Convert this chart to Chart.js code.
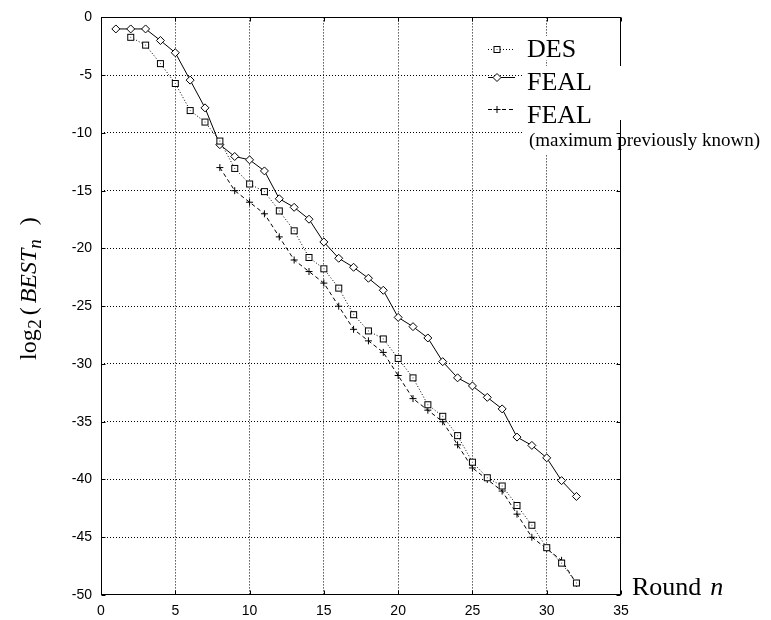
<!DOCTYPE html>
<html>
<head>
<meta charset="utf-8">
<script src="https://cdn.jsdelivr.net/npm/chart.js@4"></script>
<style>
  html, body { margin: 0; padding: 0; background: #fff; }
  canvas { display: block; }
</style>
</head>
<body>
<canvas id="c" width="771" height="620"></canvas>
<script>
// ---- data ----
const rounds = [1,2,3,4,5,6,7,8,9,10,11,12,13,14,15,16,17,18,19,20,21,22,23,24,25,26,27,28,29,30,31,32];
const desValues = [null,-1.72,-2.4,-4.0,-5.72,-8.06,-9.06,-10.7,-13.07,-14.42,-15.08,-16.75,-18.47,-20.78,-21.76,-23.43,
  -25.73,-27.14,-27.83,-29.52,-31.2,-33.53,-34.53,-36.2,-38.5,-39.85,-40.56,-42.25,-43.96,-45.9,-47.24,-48.96];
const fealValues = [-1,-1,-1,-2,-3.06,-5.43,-7.83,-11.02,-12.04,-12.33,-13.29,-15.7,-16.44,-17.47,-19.44,-20.85,
  -21.63,-22.58,-23.62,-25.97,-26.77,-27.75,-29.8,-31.2,-31.9,-32.89,-33.89,-36.33,-37.05,-38.13,-40.1,-41.47];
const fealPrevValues = [null,null,null,null,null,null,null,-13,-15,-16,-17,-19,-21,-22,-23,-25,
  -27,-28,-29,-31,-33,-34,-35,-37,-39,-40,-41,-43,-45,-46,-47,-49];
const seriesNames = ['DES', 'FEAL', 'FEAL'];
const legendNote = '(maximum previously known)';
const xTicks = [0,5,10,15,20,25,30,35];
const yTicks = [0,-5,-10,-15,-20,-25,-30,-35,-40,-45,-50];

// ---- point glyphs ----
function squareGlyph() {
  const c = document.createElement('canvas');
  c.width = 9; c.height = 9;
  const g = c.getContext('2d');
  g.fillStyle = '#fff'; g.fillRect(1, 1, 7, 7);
  g.strokeStyle = '#000'; g.lineWidth = 1;
  g.strokeRect(1.5, 1.5, 6, 6);
  g.fillStyle = '#555'; g.fillRect(4, 4, 1, 1);
  return c;
}
const sq = squareGlyph();

function pts(vals) {
  return rounds.map((r, i) => ({ x: r, y: vals[i] })).filter(p => p.y !== null);
}

const SERIF = '"Liberation Serif", "Times New Roman", serif';
const SANS = '"Liberation Sans", Arial, sans-serif';

const decor = {
  id: 'decor',
  afterDraw(chart) {
    const ctx = chart.ctx, a = chart.chartArea;
    const xs = chart.scales.x, ys = chart.scales.y;
    ctx.save();
    // legend background (hides grid behind text)
    ctx.fillStyle = '#fff';
    ctx.fillRect(523, 120, 248, 34);
    // frame
    const L = Math.round(a.left) + 0.5, R = Math.round(a.right) - 0.5;
    const T = Math.round(a.top) + 0.5, B = Math.round(a.bottom) - 0.5;
    ctx.strokeStyle = '#000'; ctx.lineWidth = 1; ctx.setLineDash([]);
    ctx.strokeRect(L, T, R - L, B - T);
    // inward tick marks
    ctx.beginPath();
    xTicks.forEach(v => {
      const p = Math.round(xs.getPixelForValue(v)) + 0.5;
      ctx.moveTo(p, B); ctx.lineTo(p, B - 4);
      ctx.moveTo(p, T); ctx.lineTo(p, T + 4);
    });
    yTicks.forEach(v => {
      const p = Math.round(ys.getPixelForValue(v)) + 0.5;
      ctx.moveTo(L, p); ctx.lineTo(L + 4, p);
      ctx.moveTo(R, p); ctx.lineTo(R - 4, p);
    });
    ctx.stroke();
    // legend upper part white box
    ctx.fillStyle = '#fff';
    ctx.fillRect(523, 66, 248, 54);
    ctx.fillRect(523, 36, 60, 24);

    // legend samples
    ctx.strokeStyle = '#000'; ctx.lineWidth = 1;
    const sx0 = 488, sx1 = 515, mx = 497;
    ctx.setLineDash([1, 2]);
    ctx.beginPath(); ctx.moveTo(sx0, 49.5); ctx.lineTo(sx1, 49.5); ctx.stroke();
    ctx.setLineDash([]);
    ctx.drawImage(sq, mx - 4.5, 49.5 - 4.5);
    ctx.beginPath(); ctx.moveTo(sx0, 77.5); ctx.lineTo(sx1, 77.5); ctx.stroke();
    ctx.beginPath();
    ctx.moveTo(mx, 77.5 - 4); ctx.lineTo(mx + 4, 77.5); ctx.lineTo(mx, 77.5 + 4); ctx.lineTo(mx - 4, 77.5); ctx.closePath();
    ctx.fillStyle = '#fff'; ctx.fill(); ctx.stroke();
    ctx.setLineDash([4, 3]);
    ctx.beginPath(); ctx.moveTo(sx0, 109.5); ctx.lineTo(sx1, 109.5); ctx.stroke();
    ctx.setLineDash([]);
    ctx.beginPath();
    ctx.moveTo(mx - 3.5, 109.5); ctx.lineTo(mx + 3.5, 109.5);
    ctx.moveTo(mx, 106); ctx.lineTo(mx, 113);
    ctx.stroke();

    // legend texts
    ctx.fillStyle = '#000';
    ctx.textBaseline = 'alphabetic'; ctx.textAlign = 'left';
    ctx.font = '26px ' + SERIF;
    ctx.fillText(seriesNames[0], 527, 56.5);
    ctx.fillText(seriesNames[1], 527, 90);
    ctx.fillText(seriesNames[2], 527, 122.5);
    ctx.font = '19px ' + SERIF;
    ctx.fillText(legendNote, 529, 146);

    // x axis title: Round n
    ctx.font = '26px ' + SERIF;
    ctx.fillText('Round', 632, 595);
    const rw = ctx.measureText('Round').width;
    ctx.font = 'italic 26px ' + SERIF;
    ctx.fillText('n', 632 + rw + 9, 595);

    // y axis title: log2( BESTn )
    ctx.translate(36, 360);
    ctx.rotate(-Math.PI / 2);
    let x = 0;
    ctx.font = '24px ' + SERIF;
    ctx.fillText('log', x, 0); x += ctx.measureText('log').width + 0.5;
    ctx.font = '19px ' + SERIF;
    ctx.fillText('2', x, 5); x += ctx.measureText('2').width + 4;
    ctx.font = '24px ' + SERIF;
    ctx.fillText('(', x, 0); x += ctx.measureText('(').width + 4;
    ctx.font = 'italic 24px ' + SERIF;
    ctx.fillText('BEST', x, 0); x += ctx.measureText('BEST').width;
    ctx.font = 'italic 19px ' + SERIF;
    ctx.fillText('n', x, 5); x += ctx.measureText('n').width + 14;
    ctx.font = '24px ' + SERIF;
    ctx.fillText(')', x, 0);
    ctx.restore();
  }
};

const gridColor = (edgeVals) => (c) => (c.tick && edgeVals.includes(c.tick.value)) ? 'rgba(0,0,0,0)' : '#000';

new Chart(document.getElementById('c'), {
  type: 'line',
  data: {
    datasets: [
      { label: seriesNames[0], data: pts(desValues), borderColor: '#000', borderWidth: 1, borderDash: [1, 2],
        pointStyle: sq, pointRadius: 4, tension: 0, fill: false },
      { label: seriesNames[1], data: pts(fealValues), borderColor: '#000', borderWidth: 1,
        pointStyle: 'rectRot', pointRadius: 4, pointBackgroundColor: '#fff', pointBorderColor: '#000', pointBorderWidth: 1,
        tension: 0, fill: false },
      { label: seriesNames[2], data: pts(fealPrevValues), borderColor: '#000', borderWidth: 1, borderDash: [4, 3],
        pointStyle: 'cross', pointRadius: 3.5, pointBorderColor: '#000', pointBorderWidth: 1, tension: 0, fill: false }
    ]
  },
  options: {
    responsive: false,
    animation: false,
    devicePixelRatio: 1,
    layout: { padding: { left: 0, right: 150, top: 11, bottom: 0 } },
    plugins: { legend: { display: false }, tooltip: { enabled: false }, title: { display: false } },
    scales: {
      x: {
        type: 'linear', min: 0, max: 35,
        afterBuildTicks: s => { s.ticks = xTicks.map(v => ({ value: v })); },
        afterFit: s => { s.height = 25; },
        grid: { color: gridColor([0, 35]), lineWidth: 1, drawTicks: false },
        border: { display: false, dash: [1, 2] },
        ticks: { color: '#000', font: { family: SANS, size: 14 }, padding: 8, maxRotation: 0 }
      },
      y: {
        type: 'linear', min: -50, max: 0,
        afterBuildTicks: s => { s.ticks = yTicks.map(v => ({ value: v })); },
        afterFit: s => { s.width = 101; },
        grid: { color: gridColor([0, -50]), lineWidth: 1, drawTicks: false },
        border: { display: false, dash: [1, 2] },
        ticks: { color: '#000', font: { family: SANS, size: 14 }, padding: 9 }
      }
    }
  },
  plugins: [decor]
});
</script>
</body>
</html>
